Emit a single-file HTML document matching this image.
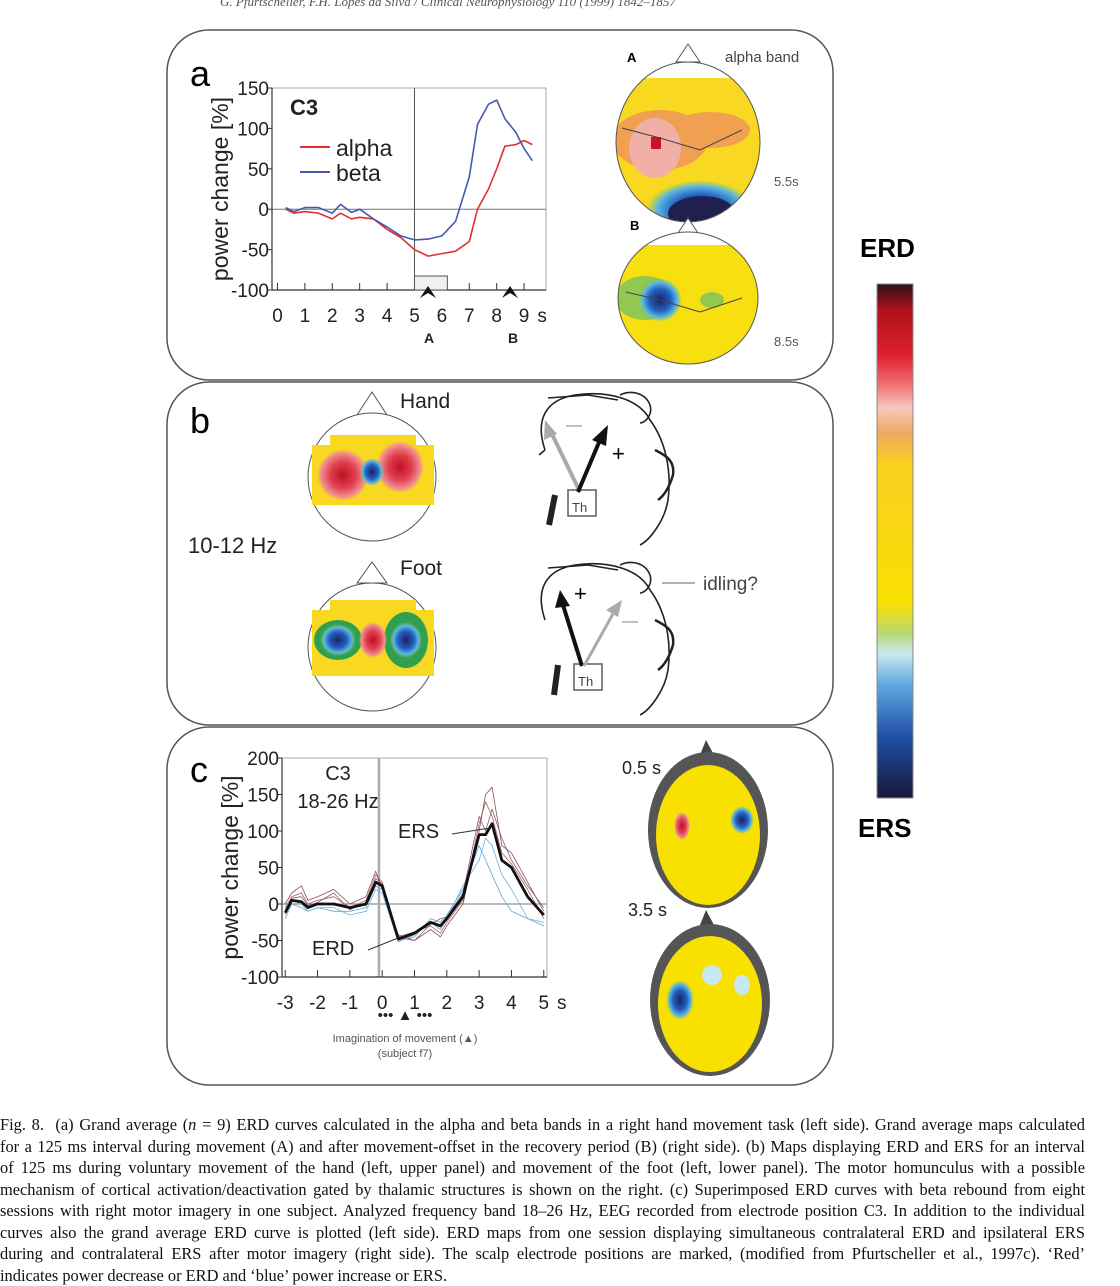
<!DOCTYPE html>
<html><head><meta charset="utf-8"><style>
body{margin:0;background:#fff;width:1120px;height:1283px;overflow:hidden;position:relative;font-family:"Liberation Sans",sans-serif}
#cap{position:absolute;left:0;top:1114px;width:1085px;font-family:"Liberation Serif",serif;font-size:16.4px;line-height:21.5px;color:#111}
#cap div{text-align:justify;text-align-last:justify;white-space:nowrap}
#cap div.last{text-align-last:left}
</style></head><body>
<svg id="fig" width="1120" height="1110" style="position:absolute;left:0;top:0" font-family="Liberation Sans, sans-serif">
<defs>
<linearGradient id="cbar" x1="0" y1="0" x2="0" y2="1">
<stop offset="0" stop-color="#2a1418"/><stop offset="0.05" stop-color="#b0101c"/><stop offset="0.14" stop-color="#e02030"/><stop offset="0.2" stop-color="#f07878"/><stop offset="0.24" stop-color="#f4c8c0"/><stop offset="0.29" stop-color="#f0a860"/><stop offset="0.35" stop-color="#f8d020"/><stop offset="0.62" stop-color="#f8e000"/><stop offset="0.68" stop-color="#b8d870"/><stop offset="0.72" stop-color="#c8e8f0"/><stop offset="0.78" stop-color="#60a8e0"/><stop offset="0.88" stop-color="#2050a8"/><stop offset="1" stop-color="#18183a"/></linearGradient>
<radialGradient id="gBlue"><stop offset="0" stop-color="#202060"/><stop offset="0.5" stop-color="#2060c0"/><stop offset="0.8" stop-color="#60b8e0"/><stop offset="1" stop-color="#80c860" stop-opacity="0"/></radialGradient>
<radialGradient id="gRed"><stop offset="0" stop-color="#c01020"/><stop offset="0.5" stop-color="#e04050"/><stop offset="0.85" stop-color="#f09090"/><stop offset="1" stop-color="#f0a060" stop-opacity="0"/></radialGradient>
</defs>
<text x="220" y="6" font-family="Liberation Serif, serif" font-size="13" fill="#555" font-style="italic">G. Pfurtscheller, F.H. Lopes da Silva / Clinical Neurophysiology 110 (1999) 1842–1857</text>
<rect x="167" y="30" width="666" height="350" rx="42" fill="none" stroke="#555" stroke-width="1.5"/>
<rect x="167" y="382" width="666" height="343" rx="42" fill="none" stroke="#555" stroke-width="1.5"/>
<rect x="167" y="727" width="666" height="358" rx="42" fill="none" stroke="#555" stroke-width="1.5"/>
<text x="190" y="86" font-size="36">a</text>
<text x="190" y="433" font-size="36">b</text>
<text x="190" y="782" font-size="36">c</text>
<g id="chartA"></g>
<g id="chartC"></g>
<g>
<polygon points="676,62 688,44 700,62" fill="#fff" stroke="#555"/>
<clipPath id="cA"><ellipse cx="688" cy="142" rx="72" ry="80"/></clipPath>
<g clip-path="url(#cA)"><rect x="610" y="60" width="160" height="170" fill="#f8d820"/><rect x="610" y="60" width="160" height="18" fill="#fff"/>
<ellipse cx="660" cy="140" rx="48" ry="30" fill="#f0a050"/><ellipse cx="710" cy="130" rx="40" ry="18" fill="#f0a050"/><ellipse cx="655" cy="148" rx="26" ry="30" fill="#f0b0a8"/><rect x="651" y="137" width="10" height="12" fill="#d01020"/>
<ellipse cx="700" cy="210" rx="54" ry="30" fill="url(#gBlue)"/><ellipse cx="702" cy="214" rx="34" ry="18" fill="#202050"/></g>
<ellipse cx="688" cy="142" rx="72" ry="80" fill="none" stroke="#555"/>
<polyline points="622,128 660,138 700,150 742,130" fill="none" stroke="#444"/>
</g>
<text x="627" y="62" font-size="13" font-weight="bold">A</text>
<text x="725" y="62" font-size="15" fill="#444">alpha band</text>
<text x="774" y="186" font-size="13" fill="#555">5.5s</text>
<g>
<polygon points="676,236 688,218 700,236" fill="#fff" stroke="#555"/>
<clipPath id="cB"><ellipse cx="688" cy="298" rx="70" ry="66"/></clipPath>
<g clip-path="url(#cB)"><rect x="610" y="230" width="160" height="140" fill="#f8e010"/><rect x="610" y="230" width="160" height="15" fill="#fff"/>
<ellipse cx="645" cy="298" rx="30" ry="22" fill="#90c850"/><ellipse cx="660" cy="300" rx="22" ry="22" fill="url(#gBlue)"/><ellipse cx="712" cy="300" rx="12" ry="8" fill="#90c850"/></g>
<ellipse cx="688" cy="298" rx="70" ry="66" fill="none" stroke="#555"/>
<polyline points="626,292 660,300 700,312 742,298" fill="none" stroke="#444"/>
</g>
<text x="630" y="230" font-size="13" font-weight="bold">B</text>
<text x="774" y="346" font-size="13" fill="#555">8.5s</text>
<text x="860" y="257" font-size="26" font-weight="bold">ERD</text>
<rect x="877" y="284" width="36" height="514" fill="url(#cbar)" stroke="#888"/>
<text x="858" y="837" font-size="26" font-weight="bold">ERS</text>
<g>
<polygon points="357,415 372,392 387,415" fill="#fff" stroke="#555"/>
<ellipse cx="372" cy="477" rx="64" ry="64" fill="#fff" stroke="#555"/>
<rect x="312" y="445" width="122" height="60" fill="#f8d820"/><rect x="330" y="435" width="86" height="12" fill="#f8d820"/>
<ellipse cx="343" cy="475" rx="26" ry="26" fill="url(#gRed)"/><ellipse cx="400" cy="467" rx="24" ry="26" fill="url(#gRed)"/><ellipse cx="372" cy="472" rx="12" ry="14" fill="url(#gBlue)"/>
</g>
<text x="400" y="408" font-size="21" fill="#222">Hand</text>
<text x="188" y="553" font-size="22" fill="#222">10-12 Hz</text>
<g>
<polygon points="357,583 372,562 387,583" fill="#fff" stroke="#555"/>
<ellipse cx="372" cy="647" rx="64" ry="64" fill="#fff" stroke="#555"/>
<rect x="312" y="610" width="122" height="66" fill="#f8d820"/><rect x="330" y="600" width="86" height="12" fill="#f8d820"/>
<ellipse cx="338" cy="640" rx="24" ry="20" fill="#30a050"/><ellipse cx="338" cy="640" rx="18" ry="16" fill="url(#gBlue)"/><ellipse cx="406" cy="640" rx="22" ry="28" fill="#30a050"/><ellipse cx="406" cy="640" rx="16" ry="18" fill="url(#gBlue)"/><ellipse cx="373" cy="640" rx="14" ry="18" fill="url(#gRed)"/>
</g>
<text x="400" y="575" font-size="21" fill="#222">Foot</text>
<g fill="none" stroke="#222" stroke-width="1.6">
<path d="M545,450 C535,420 545,400 575,395 C610,390 640,400 650,420 C665,440 672,470 668,500 C665,520 650,540 640,545"/>
<path d="M545,450 l-6,5 M548,398 l40,-3 l30,5 M620,395 c10,-5 25,-3 30,10 c3,10 -5,18 -10,18"/>
<path d="M655,450 c10,5 20,10 18,25 c-3,10 -8,20 -15,25" stroke-width="2.5"/>
<rect x="568" y="490" width="28" height="26" stroke="#666"/><text x="572" y="512" font-size="13" fill="#444" stroke="none">Th</text>
<line x1="580" y1="492" x2="550" y2="430" stroke="#aaa" stroke-width="4"/><polygon points="545,420 544,440 557,434" fill="#aaa" stroke="none"/>
<line x1="578" y1="492" x2="600" y2="440" stroke="#111" stroke-width="4"/><polygon points="608,425 592,440 606,446" fill="#111" stroke="none"/>
<path d="M555,495 l-6,30" stroke-width="6"/>
</g>
<text x="612" y="461" font-size="22">+</text><text x="566" y="430" font-size="16" fill="#888">—</text>
<g fill="none" stroke="#222" stroke-width="1.6">
<path d="M545,620 C535,590 545,570 575,565 C610,560 640,570 650,590 C665,610 672,640 668,670 C665,690 650,710 640,715"/>
<path d="M548,568 l40,-3 l30,5 M620,565 c10,-5 25,-3 30,10 c3,10 -5,18 -10,18"/>
<path d="M655,620 c10,5 20,10 18,25 c-3,10 -8,20 -15,25" stroke-width="2.5"/>
<rect x="574" y="664" width="28" height="26" stroke="#666"/><text x="578" y="686" font-size="13" fill="#444" stroke="none">Th</text>
<line x1="582" y1="666" x2="563" y2="605" stroke="#111" stroke-width="4"/><polygon points="560,590 555,608 570,606" fill="#111" stroke="none"/>
<line x1="584" y1="666" x2="614" y2="612" stroke="#aaa" stroke-width="3"/><polygon points="622,600 606,610 618,617" fill="#aaa" stroke="none"/>
<path d="M558,665 l-4,30" stroke-width="6"/><line x1="662" y1="583" x2="695" y2="583" stroke="#666" stroke-width="1"/>
</g>
<text x="574" y="601" font-size="22">+</text><text x="622" y="626" font-size="16" fill="#888">—</text>
<text x="703" y="590" font-size="19" fill="#444">idling?</text>
<g>
<path d="M700,755 l6,-15 l8,15 Z" fill="#444"/>
<ellipse cx="708" cy="830" rx="60" ry="78" fill="#555"/>
<ellipse cx="708" cy="835" rx="52" ry="70" fill="#f8e000"/>
<ellipse cx="682" cy="826" rx="8" ry="14" fill="url(#gRed)"/><ellipse cx="742" cy="820" rx="12" ry="14" fill="url(#gBlue)"/>
</g>
<text x="622" y="774" font-size="18" fill="#222">0.5 s</text>
<g>
<path d="M700,925 l6,-15 l8,15 Z" fill="#444"/>
<ellipse cx="710" cy="1000" rx="60" ry="76" fill="#555"/>
<ellipse cx="710" cy="1004" rx="52" ry="68" fill="#f8e000"/>
<ellipse cx="680" cy="1000" rx="14" ry="20" fill="url(#gBlue)"/><ellipse cx="712" cy="975" rx="10" ry="10" fill="#c8e8f0"/><ellipse cx="742" cy="985" rx="8" ry="10" fill="#c8e8f0"/>
</g>
<text x="628" y="916" font-size="18" fill="#222">3.5 s</text>
</svg>
<div id="cap">
<div>Fig. 8.&nbsp; (a) Grand average (<i>n</i> = 9) ERD curves calculated in the alpha and beta bands in a right hand movement task (left side). Grand average maps calculated</div>
<div>for a 125 ms interval during movement (A) and after movement-offset in the recovery period (B) (right side). (b) Maps displaying ERD and ERS for an interval</div>
<div>of 125 ms during voluntary movement of the hand (left, upper panel) and movement of the foot (left, lower panel). The motor homunculus with a possible</div>
<div>mechanism of cortical activation/deactivation gated by thalamic structures is shown on the right. (c) Superimposed ERD curves with beta rebound from eight</div>
<div>sessions with right motor imagery in one subject. Analyzed frequency band 18–26 Hz, EEG recorded from electrode position C3. In addition to the individual</div>
<div>curves also the grand average ERD curve is plotted (left side). ERD maps from one session displaying simultaneous contralateral ERD and ipsilateral ERS</div>
<div>during and contralateral ERS after motor imagery (right side). The scalp electrode positions are marked, (modified from Pfurtscheller et al., 1997c). ‘Red’</div>
<div class="last">indicates power decrease or ERD and ‘blue’ power increase or ERS.</div>
</div>
<script>
const NS='http://www.w3.org/2000/svg';
const aTimes=[0.3,0.6,1,1.5,2,2.3,2.7,3,3.5,4,4.5,5,5.5,6,6.5,7,7.3,7.7,8,8.3,8.7,9,9.3];
const aAlpha=[0,-5,-3,-5,-12,-5,-12,-10,-12,-25,-35,-50,-58,-55,-52,-40,0,25,50,78,80,85,80];
const aBeta=[2,-3,2,2,-5,6,-4,0,-12,-22,-33,-38,-37,-33,-15,40,105,130,135,112,95,75,60];
const aYTicks=[150,100,50,0,-50,-100];
const aXTicks=[0,1,2,3,4,5,6,7,8,9];
const cTimes=[-3,-2.8,-2.5,-2.3,-2,-1.5,-1,-0.5,-0.2,0,0.5,1,1.5,1.8,2,2.5,3,3.2,3.4,3.7,4,4.5,5];
const cMean=[-12,5,3,-5,0,0,-5,0,30,25,-48,-40,-25,-30,-20,10,95,95,110,60,50,10,-15];
const cS1=[-5,10,15,0,5,10,-5,5,40,30,-45,-38,-30,-40,-25,5,110,140,120,70,55,20,-20];
const cS2=[-20,0,-5,-10,-5,-10,-10,-5,25,20,-50,-45,-20,-25,-15,20,80,60,40,10,-10,-20,-30];
const cS3=[0,15,25,5,10,20,0,10,45,20,-42,-50,-35,-45,-30,0,100,150,160,80,70,30,-10];
const cS4=[-15,5,0,-10,-5,-5,-15,-10,20,15,-52,-42,-25,-35,-20,25,60,90,80,40,20,-20,-25];
const cS5=[-8,8,10,-2,2,15,-8,2,35,28,-46,-50,-28,-20,-18,15,120,100,130,90,60,25,-5];
const cYTicks=[200,150,100,50,0,-50,-100];
const cXTicks=[-3,-2,-1,0,1,2,3,4,5];
function el(parent,tag,attrs,name){const e=document.createElementNS(NS,tag);for(const k in attrs)e.setAttribute(k,attrs[k]);


parent.appendChild(e);return e;}
function txt(parent,x,y,s,size,name,anchor){const t=el(parent,'text',{x:x,y:y,'font-size':size,'text-anchor':anchor||'middle',fill:'#222'},name);t.textContent=s;return t;}
function chart(g,o){
 const X=v=>o.x0+(v-o.xmin)/(o.xmax-o.xmin)*(o.x1-o.x0);
 const Y=v=>o.y1-(v-o.ymin)/(o.ymax-o.ymin)*(o.y1-o.y0);
 el(g,'rect',{x:o.x0,y:o.y0,width:o.x1-o.x0,height:o.y1-o.y0,fill:'none',stroke:'#aaa'},'plot-frame');
 el(g,'line',{x1:o.x0,x2:o.x1,y1:Y(0),y2:Y(0),stroke:'#777'},'zero-line');
 el(g,'line',{x1:X(o.vline),x2:X(o.vline),y1:o.y0,y2:o.y1,stroke:o.vcol,'stroke-width':o.vw},'onset-line');
 el(g,'line',{x1:o.x0,x2:o.x1,y1:o.y1,y2:o.y1,stroke:'#333','stroke-width':1.2},'x-axis');
 el(g,'line',{x1:o.x0,x2:o.x0,y1:o.y0,y2:o.y1,stroke:'#333','stroke-width':1.2},'y-axis');
 o.yt.forEach(v=>{el(g,'line',{x1:o.x0-5,x2:o.x0,y1:Y(v),y2:Y(v),stroke:'#333'},'y-tick');txt(g,o.x0-3,Y(v)+7,String(v),19,'y-tick-label','end');});
 o.xt.forEach(v=>{el(g,'line',{x1:X(v),x2:X(v),y1:o.y1-7,y2:o.y1,stroke:'#333'},'x-tick');txt(g,X(v),o.y1+32,String(v),19,'x-tick-label');});
 txt(g,X(o.xt[o.xt.length-1])+18,o.y1+32,'s',19,'x-unit');
 const yl=txt(g,0,0,'power change [%]',23,'y-axis-title');yl.setAttribute('transform','translate('+(o.x0-44)+','+((o.y0+o.y1)/2)+') rotate(-90)');
 o.series.forEach(s=>{const p=s.v.map((v,i)=>X(o.t[i]).toFixed(1)+','+Y(v).toFixed(1)).join(' ');
  el(g,'polyline',{points:p,fill:'none',stroke:s.c,'stroke-width':s.w,'stroke-linejoin':'round'},s.n);});
 return {X,Y};
}
const gA=document.getElementById('chartA');
const A=chart(gA,{x0:272,x1:546,y0:88,y1:290,xmin:-0.2,xmax:9.8,ymin:-100,ymax:150,vline:5,vcol:'#555',vw:1,yt:aYTicks,xt:aXTicks,t:aTimes,
 series:[{v:aAlpha,c:'#e03030',w:1.6,n:'alpha-line'},{v:aBeta,c:'#4858b0',w:1.6,n:'beta-line'}]});
txt(gA,290,115,'C3',22,'channel-label','start').setAttribute('font-weight','bold');
el(gA,'line',{x1:300,x2:330,y1:147,y2:147,stroke:'#e03030','stroke-width':2},'legend-alpha-swatch');
txt(gA,336,156,'alpha',23,'legend-alpha','start');
el(gA,'line',{x1:300,x2:330,y1:172,y2:172,stroke:'#4858b0','stroke-width':2},'legend-beta-swatch');
txt(gA,336,181,'beta',23,'legend-beta','start');
el(gA,'rect',{x:A.X(5),y:276,width:A.X(6.2)-A.X(5),height:14,fill:'#f0f0f0',stroke:'#555'},'interval-box');
el(gA,'polygon',{points:'420,298 428,286 436,298 428,293',fill:'#111'},'marker-a');
el(gA,'polygon',{points:'502,298 510,286 518,298 510,293',fill:'#111'},'marker-b');
txt(gA,429,343,'A',14,'marker-a-label').setAttribute('font-weight','bold');
txt(gA,513,343,'B',14,'marker-b-label').setAttribute('font-weight','bold');
const gC=document.getElementById('chartC');
const C=chart(gC,{x0:282,x1:547,y0:758,y1:977,xmin:-3.1,xmax:5.1,ymin:-100,ymax:200,vline:-0.1,vcol:'#aaa',vw:2.5,yt:cYTicks,xt:cXTicks,t:cTimes,
 series:[{v:cS1,c:'#b06060',w:0.8,n:'session-1'},{v:cS2,c:'#60a8d0',w:0.8,n:'session-2'},{v:cS3,c:'#905050',w:0.8,n:'session-3'},{v:cS4,c:'#70b0e0',w:0.8,n:'session-4'},{v:cS5,c:'#806080',w:0.8,n:'session-5'},{v:cMean,c:'#111',w:2.8,n:'grand-average'}]});
txt(gC,338,780,'C3',20,'channel-label-c');
txt(gC,338,808,'18-26 Hz',20,'band-label');
txt(gC,398,838,'ERS',20,'ers-annotation','start');
el(gC,'line',{x1:452,x2:490,y1:834,y2:828,stroke:'#333'},'ers-pointer');
txt(gC,312,955,'ERD',20,'erd-annotation','start');
el(gC,'line',{x1:368,x2:398,y1:950,y2:938,stroke:'#333'},'erd-pointer');
txt(gC,405,1020,'••• ▲ •••',15,'imagery-marker');
txt(gC,405,1042,'Imagination of movement (▲)',11,'imagery-caption').setAttribute('fill','#555');
txt(gC,405,1057,'(subject f7)',11,'subject-caption').setAttribute('fill','#555');
</script>
</body></html>
